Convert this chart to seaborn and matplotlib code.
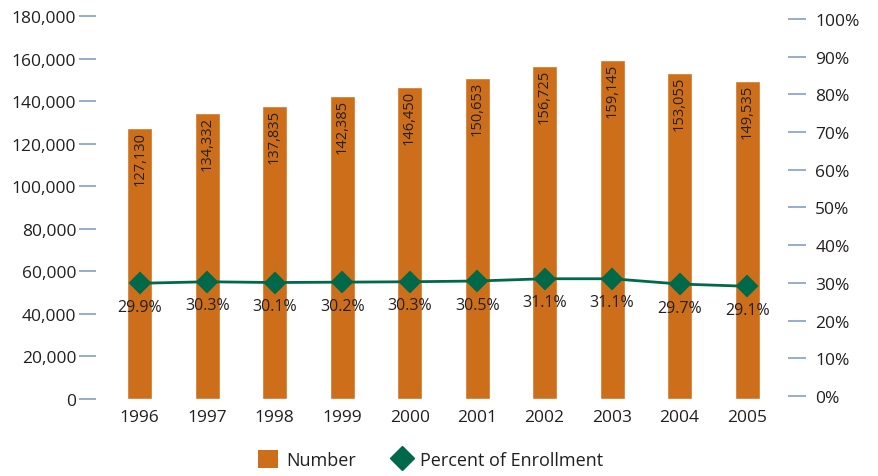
import numpy as np
import matplotlib as mpl
mpl.use('Agg')
import matplotlib.pyplot as plt
from matplotlib.patches import Patch
from matplotlib.lines import Line2D
import seaborn as sns
import pandas as pd

years = ['1996', '1997', '1998', '1999', '2000', '2001', '2002', '2003', '2004', '2005']
number = [127130, 134332, 137835, 142385, 146450, 150653, 156725, 159145, 153055, 149535]
percent = [29.9, 30.3, 30.1, 30.2, 30.3, 30.5, 31.1, 31.1, 29.7, 29.1]

orange = '#CD6F1A'
green = '#00694A'
tick_col = '#8EA7CB'
text_col = '#231F20'

sns.set_theme(style='white')
plt.rcParams['font.family'] = ['Open Sans', 'DejaVu Sans']
plt.rcParams['text.color'] = text_col

df = pd.DataFrame({'year': years, 'number': number, 'percent': percent})

fig = plt.figure(figsize=(8.79, 4.77), dpi=100)
ax = fig.add_axes([0.109, 0.1614, 0.787, 0.803])

sns.barplot(data=df, x='year', y='number', color=orange, width=0.37,
            saturation=1, ax=ax)
for i, v in enumerate(number):
    ax.annotate(f'{v:,}', xy=(i, v), xytext=(0, -2), textcoords='offset points',
                rotation=90, ha='center', va='top', fontsize=10.5, color=text_col)

ax.set_ylim(0, 180000)
ax.set_yticks(np.arange(0, 180001, 20000))
ax.yaxis.set_major_formatter(mpl.ticker.FuncFormatter(lambda v, p: f'{v:,.0f}'))
ax.set_xlabel('')
ax.set_ylabel('')
ax.tick_params(axis='y', which='major', length=12, width=1.3, color=tick_col,
               pad=2, labelsize=12.5, labelcolor=text_col, left=True)
ax.tick_params(axis='x', length=0, pad=7, labelsize=12.5, labelcolor=text_col)
for s in ax.spines.values():
    s.set_visible(False)

ax2 = ax.twinx()
sns.pointplot(data=df, x='year', y='percent', color=green, markers='D',
              markersize=10, linewidth=2, ax=ax2)
for i, v in enumerate(percent):
    ax2.annotate(f'{v:.1f}%', xy=(i, v), xytext=(0, -17), textcoords='offset points',
                 ha='center', va='center', fontsize=11.5, color=text_col)
ax2.set_ylim(-0.8, 100.8)
ax2.set_yticks(np.arange(0, 101, 10))
ax2.set_yticklabels([f'{t}%' for t in range(0, 101, 10)])
ax2.set_ylabel('')
ax2.set_xlabel('')
ax2.tick_params(axis='y', length=13, width=1.3, color=tick_col, pad=7,
                labelsize=12.5, labelcolor=text_col, right=True)
for s in ax2.spines.values():
    s.set_visible(False)

ax.set_xlim(-0.65, 9.6)
ax2.set_xlim(-0.65, 9.6)

handles = [Patch(facecolor=orange, edgecolor='none', label='Number'),
           Line2D([], [], color=green, marker='D', linestyle='none', markersize=12,
                  label='Percent of Enrollment')]
fig.legend(handles=handles, loc='lower center', bbox_to_anchor=(0.49, -0.02), ncol=2,
           frameon=False, fontsize=13, handlelength=1.1, handleheight=1.1,
           columnspacing=2.0, handletextpad=0.45)

fig.savefig('out.png', dpi=100)
